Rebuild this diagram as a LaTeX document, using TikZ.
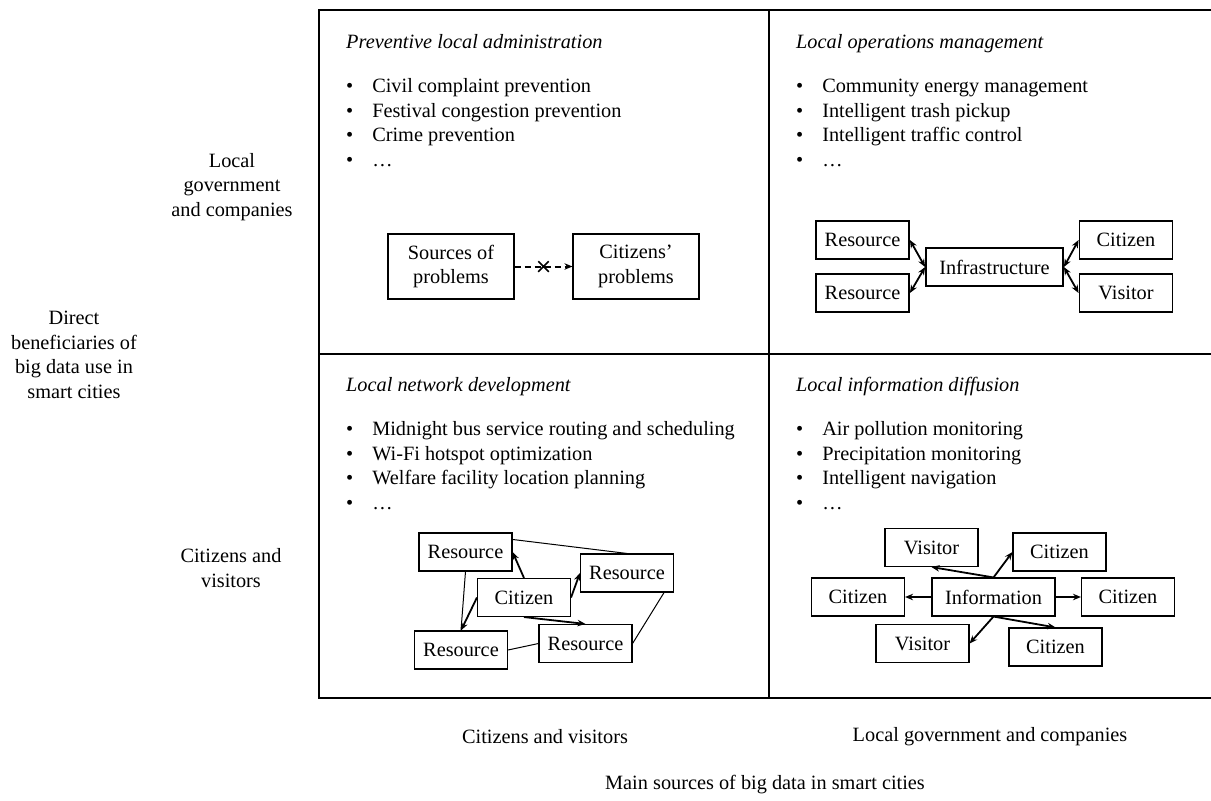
\documentclass[tikz,border=0pt]{standalone}
\usepackage{fontspec}
\setmainfont{Liberation Serif}
\usetikzlibrary{arrows.meta,positioning,shapes.misc}

\begin{document}
\begin{tikzpicture}[x=1pt,y=-1pt,>={Stealth[length=8pt,width=6.5pt]},
		font=\fontsize{20.3}{24.5}\selectfont]
		\tikzstyle{box}=[draw,rectangle,line width=1.1pt,minimum width=93pt,minimum height=38pt,inner sep=2pt]
		\tikzstyle{thickbox}=[box,line width=1.8pt]
		\tikzstyle{link}=[->,line width=1.8pt]
		\tikzstyle{title}=[anchor=base west,inner sep=0,font=\fontsize{20.3}{24.5}\selectfont\itshape]
		\tikzstyle{items}=[anchor=base west,inner sep=0]
		\useasboundingbox (0,0) rectangle (1211,801);
		% quadrant grid
		\draw[line width=2pt] (1212,10) -- (319,10) -- (319,698) -- (1212,698);
		\draw[line width=2pt] (319,354) -- (1212,354);
		\draw[line width=2pt] (769,10) -- (769,698);
		% axis labels
		\node[align=center] (gov)  at (232,187) {Local\\government\\and companies};
		\node[align=center] (cit)  at (231,568) {Citizens and\\visitors};
		\node[align=center] (benef) at (74,355) {Direct\\beneficiaries of\\big data use in\\smart cities};
		\node (srcA) at (545,737) {Citizens and visitors};
		\node (srcB) at (990,737) {Local government and companies};
		\node (srcs) at (765,785) {Main sources of big data in smart cities};
		% top left
		\node[title] (T1) at (346,48) {Preventive local administration};
		\node[items] (L1) at (346,92.5) {\begin{tabular}[t]{@{}l@{\hspace{19pt}}l@{}}
				• & Civil complaint prevention\\
				• & Festival congestion prevention\\
				• & Crime prevention\\
				• & \ldots
			\end{tabular}};
		\node[box,minimum width=126pt,minimum height=65pt,align=center] (S) at (451,266.5) {Sources of\\problems};
		\node[box,minimum width=126pt,minimum height=65pt,align=center] (P) at (636,266.5) {Citizens’\\problems};
		\draw[->,line width=2pt,dash pattern=on 6pt off 4pt] (S) -- node[cross out,draw,solid,line width=1.5pt,minimum size=9pt,inner sep=0] (X) {} (P);
		% top right
		\node[title] (T2) at (796,48) {Local operations management};
		\node[items] (L2) at (796,92.5) {\begin{tabular}[t]{@{}l@{\hspace{19pt}}l@{}}
				• & Community energy management\\
				• & Intelligent trash pickup\\
				• & Intelligent traffic control\\
				• & \ldots
			\end{tabular}};
		\node[thickbox] (R1) at (862.5,240) {Resource};
		\node[thickbox] (R2) at (862.5,293) {Resource};
		\node[thickbox,minimum width=137pt] (I) at (994.5,267) {Infrastructure};
		\node[thickbox] (C) at (1126,240) {Citizen};
		\node[thickbox] (V) at (1126,293) {Visitor};
		\path[<->,line width=1.8pt] (R1.east) edge (I.west)
			(R2.east) edge (I.west)
			(I.east) edge (C.west)
			(I.east) edge (V.west);
		% bottom left
		\node[title] (T3) at (346,391) {Local network development};
		\node[items] (L3) at (346,435.5) {\begin{tabular}[t]{@{}l@{\hspace{19pt}}l@{}}
				• & Midnight bus service routing and scheduling\\
				• & Wi-Fi hotspot optimization\\
				• & Welfare facility location planning\\
				• & \ldots
			\end{tabular}};
		\node[box] (ra) at (465.5,552) {Resource};
		\node[box] (rb) at (627,573) {Resource};
		\node[box] (ci) at (524,597.5) {Citizen};
		\node[box] (rc) at (461,650) {Resource};
		\node[box] (rd) at (585.5,643.5) {Resource};
		\draw[line width=1pt] ([yshift=-7pt]ra.north east) -- (rb.north);
		\draw[line width=1pt] (ra.south) -- (rc.north);
		\draw[line width=1pt] (rc.east) -- (rd.west);
		\draw[line width=1pt] ([xshift=-10pt]rb.south east) -- (rd.east);
		\path[link] (ci.north) edge (ra.east)
			(ci.east) edge (rb.west)
			(ci.west) edge (rc.north)
			(ci.south) edge (rd.north);
		% bottom right
		\node[title] (T4) at (796,391) {Local information diffusion};
		\node[items] (L4) at (796,435.5) {\begin{tabular}[t]{@{}l@{\hspace{19pt}}l@{}}
				• & Air pollution monitoring\\
				• & Precipitation monitoring\\
				• & Intelligent navigation\\
				• & \ldots
			\end{tabular}};
		\node[box] (vt) at (931.5,547.5) {Visitor};
		\node[box] (ct) at (1059.5,552) {Citizen};
		\node[box] (cl) at (858,597) {Citizen};
		\node[box,minimum width=123pt] (inf) at (993.5,597) {Information};
		\node[box] (cr) at (1128,597) {Citizen};
		\node[box] (vb) at (922.5,643.5) {Visitor};
		\node[box] (cb) at (1055.5,647) {Citizen};
		\path[link] (inf.north) edge (vt.south)
			(inf.north) edge (ct.west)
			(inf.west) edge (cl.east)
			(inf.east) edge (cr.west)
			(inf.south) edge (vb.east)
			(inf.south) edge (cb.north);
	\end{tikzpicture}
\end{document}
